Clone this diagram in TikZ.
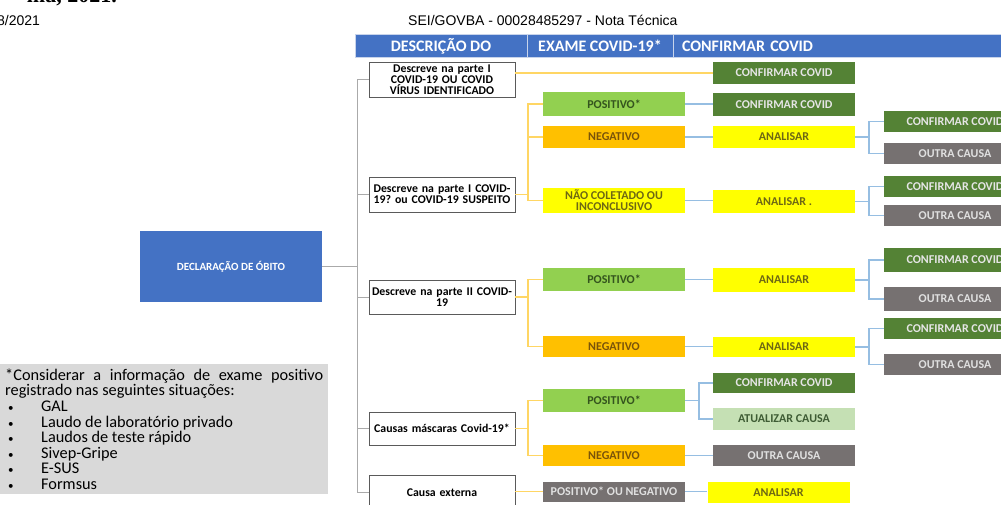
\documentclass[tikz,border=0pt]{standalone}
\usepackage{fontspec}
\setmainfont{Carlito}
\newfontfamily\seifont{Liberation Sans}
\newfontfamily\titfont{Liberation Serif}
\usepackage{xcolor}
\definecolor{hdrblue}{RGB}{68,114,196}
\definecolor{hdrline}{RGB}{200,212,235}
\definecolor{posgreen}{RGB}{146,208,80}
\definecolor{postext}{RGB}{52,84,30}
\definecolor{negorange}{RGB}{255,192,0}
\definecolor{negtext}{RGB}{122,84,10}
\definecolor{anayellow}{RGB}{255,255,0}
\definecolor{anatext}{RGB}{110,104,20}
\definecolor{confgreen}{RGB}{84,130,53}
\definecolor{outgray}{RGB}{118,113,113}
\definecolor{atugreen}{RGB}{197,224,180}
\definecolor{atutext}{RGB}{62,92,52}
\definecolor{notegray}{RGB}{217,217,217}
\definecolor{trunkgray}{RGB}{170,170,170}
\definecolor{goldline}{RGB}{255,214,100}
\definecolor{blueline}{RGB}{150,190,226}
\definecolor{boxgray}{RGB}{90,90,90}
\usetikzlibrary{positioning, calc}
\frenchspacing

\tikzset{
  hdrcell/.style={draw=hdrline, line width=1pt, fill=hdrblue, text=white,
    font=\bfseries\fontsize{16}{18}\selectfont, minimum height=23pt, inner sep=0pt},
  descbox/.style={draw=boxgray, fill=white, line width=0.8pt, minimum width=144pt,
    text width=146pt, inner xsep=0pt, inner ysep=1pt, align=center,
    font=\bfseries\fontsize{11.8}{11}\selectfont},
  exbox/.style={minimum width=142pt, minimum height=23pt, inner sep=0pt, align=center,
    font=\bfseries\fontsize{12}{11}\selectfont},
  posbox/.style={exbox, fill=posgreen, text=postext},
  negbox/.style={exbox, fill=negorange, text=negtext},
  anabox/.style={exbox, fill=anayellow, text=anatext},
  confbox/.style={exbox, fill=confgreen, text=white!90!black},
  outbox/.style={exbox, fill=outgray, text=white!88!black},
  atubox/.style={exbox, fill=atugreen, text=atutext},
  trunkln/.style={draw=trunkgray, line width=0.9pt},
  goldln/.style={draw=goldline, line width=1.1pt},
  blueln/.style={draw=blueline, line width=1.1pt},
}

\begin{document}
\begin{tikzpicture}[x=1pt, y=-1pt]
\useasboundingbox (0,0) rectangle (1001,504);
\clip (0,0) rectangle (1001,504);

% --- page head ---
\node[font=\titfont\bfseries\fontsize{22}{24}\selectfont, anchor=base east, inner sep=0pt] (titulo) at (117,2) {ma, 2021.};
\node[font=\seifont\fontsize{14}{16}\selectfont, anchor=base west, inner sep=0pt] (data) at (-3,25) {8/2021};
\node[font=\seifont\fontsize{14}{16}\selectfont, anchor=base west, inner sep=0pt] (sei) at (408,25) {SEI/GOVBA - 00028485297 - Nota Técnica};

% --- header bar ---
\node[hdrcell, minimum width=172pt] (hdr1) at (441,46) {DESCRIÇÃO DO};
\node[hdrcell, minimum width=146pt] (hdr2) at (600,46) {EXAME COVID-19*};
\node[hdrcell, minimum width=340pt, text width=322pt, align=left] (hdr3) at (843,46) {CONFIRMAR COVID};

% --- root ---
\node[fill=hdrblue, text=white, minimum width=182pt, minimum height=71pt, inner sep=0pt,
      font=\bfseries\fontsize{11}{12}\selectfont] (dec) at (231,266.5) {DECLARAÇÃO DE ÓBITO};

% --- note ---
\node[fill=notegray, anchor=north west, minimum width=328pt, minimum height=130pt,
      text width=318pt, inner xsep=5pt, inner ysep=0pt, align=justify,
      font=\fontsize{16.3}{15.6}\selectfont] (nota) at (0,364)
  {*Considerar a informação de exame positivo\linebreak registrado nas seguintes situações:\par
   \hspace*{3pt}\makebox[33pt][l]{\fontsize{11}{12}\selectfont\textbullet}GAL\par
   \hspace*{3pt}\makebox[33pt][l]{\fontsize{11}{12}\selectfont\textbullet}Laudo de laboratório privado\par
   \hspace*{3pt}\makebox[33pt][l]{\fontsize{11}{12}\selectfont\textbullet}Laudos de teste rápido\par
   \hspace*{3pt}\makebox[33pt][l]{\fontsize{11}{12}\selectfont\textbullet}Sivep-Gripe\par
   \hspace*{3pt}\makebox[33pt][l]{\fontsize{11}{12}\selectfont\textbullet}E-SUS\par
   \hspace*{3pt}\makebox[33pt][l]{\fontsize{11}{12}\selectfont\textbullet}Formsus};

% --- descricao ---
\node[descbox, minimum height=35pt] (d1) at (442,79.5) {Descreve na parte I\\COVID-19 OU COVID\\VÍRUS IDENTIFICADO};
\node[descbox, minimum height=35pt] (d2) at (442,194.5) {Descreve na parte I COVID-\\19? ou COVID-19 SUSPEITO};
\node[descbox, minimum height=34pt] (d3) at (442,297) {Descreve na parte II COVID-\\19};
\node[descbox, minimum height=33pt] (d4) at (442,428.5) {Causas máscaras Covid-19*};
\node[descbox, minimum height=35pt] (d5) at (442,492.5) {Causa externa};

% --- exame ---
\node[posbox, minimum height=24pt] (p2) at (614,104) {POSITIVO*};
\node[negbox, minimum height=22pt] (n2) at (614,137) {NEGATIVO};
\node[anabox, minimum height=25pt] (nc2) at (614,200.5) {NÃO COLETADO OU\\INCONCLUSIVO};
\node[posbox] (p3) at (614,279.5) {POSITIVO*};
\node[negbox, minimum height=21pt] (n3) at (614,346.5) {NEGATIVO};
\node[posbox] (p4) at (614,400.5) {POSITIVO*};
\node[negbox, minimum height=21pt] (n4) at (614,455.5) {NEGATIVO};
\node[outbox, minimum height=20pt] (pn5) at (614,491.5) {POSITIVO* OU NEGATIVO};

% --- confirmar ---
\node[confbox, minimum height=22pt] (c1) at (784,73) {CONFIRMAR COVID};
\node[confbox] (c2) at (784,104.5) {CONFIRMAR COVID};
\node[anabox, minimum height=22pt] (a2) at (784,137) {ANALISAR};
\node[anabox] (a3) at (784,201.5) {ANALISAR .};
\node[anabox, minimum height=24pt] (a4) at (784,280) {ANALISAR};
\node[anabox, minimum height=20pt] (a5) at (784,347) {ANALISAR};
\node[confbox, minimum height=20pt] (c6) at (784,383) {CONFIRMAR COVID};
\node[atubox, minimum height=22pt] (u6) at (784,419) {ATUALIZAR CAUSA};
\node[outbox, minimum height=21pt] (o7) at (784,455.5) {OUTRA CAUSA};
\node[anabox, minimum height=21pt] (a8) at (778.5,492.5) {ANALISAR};

% --- ultima coluna ---
\node[confbox, minimum height=21pt] (ca) at (955,121.5) {CONFIRMAR COVID};
\node[outbox, minimum height=21pt] (oa) at (955,153.5) {OUTRA CAUSA};
\node[confbox, minimum height=21pt] (cb) at (955,186.5) {CONFIRMAR COVID};
\node[outbox, minimum height=21pt] (ob) at (955,215.5) {OUTRA CAUSA};
\node[confbox, minimum height=24pt] (cc) at (955,260) {CONFIRMAR COVID};
\node[outbox, minimum height=24pt] (oc) at (955,299) {OUTRA CAUSA};
\node[confbox, minimum height=21pt] (cd) at (955,328.5) {CONFIRMAR COVID};
\node[outbox, minimum height=21pt] (od) at (955,364.5) {OUTRA CAUSA};

% --- connectors: tronco ---
\coordinate (tronco) at (357,0);
\draw[trunkln] (d1.west) -- (d1.west -| tronco) -- (d5.west -| tronco) -- (d5.west);
\foreach \n in {d2,d3,d4}
  \draw[trunkln] (\n.west) -- (\n.west -| tronco);
\draw[trunkln] (dec.east) -- (dec.east -| tronco);

% --- connectors: descricao -> exame ---
\coordinate (fexa) at (528,0);
\draw[goldln] (d1.east |- c1.west) -- (c1.west);
\draw[goldln] (d2.east) -- (d2.east -| fexa);
\draw[goldln] (p2.west) -- (p2.west -| fexa) -- (nc2.west -| fexa) -- (nc2.west);
\draw[goldln] (n2.west) -- (n2.west -| fexa);
\draw[goldln] (d3.east) -- (d3.east -| fexa);
\draw[goldln] (p3.west) -- (p3.west -| fexa) -- (n3.west -| fexa) -- (n3.west);
\draw[goldln] (d4.east) -- (d4.east -| fexa);
\draw[goldln] (p4.west) -- (p4.west -| fexa) -- (n4.west -| fexa) -- (n4.west);
\draw[goldln] (d5.east |- pn5.west) -- (pn5.west);

% --- connectors: exame -> confirmar ---
\draw[blueln] (p2.east) -- (p2.east -| c2.west);
\draw[blueln] (n2.east) -- (n2.east -| a2.west);
\draw[blueln] (nc2.east) -- (nc2.east -| a3.west);
\draw[blueln] (p3.east) -- (p3.east -| a4.west);
\draw[blueln] (n3.east) -- (n3.east -| a5.west);
\draw[blueln] (n4.east) -- (n4.east -| o7.west);
\draw[blueln] (pn5.east) -- (pn5.east -| a8.west);
\coordinate (fcon) at (699,0);
\draw[blueln] (p4.east) -- (p4.east -| fcon);
\draw[blueln] (c6.west) -- (c6.west -| fcon) -- (u6.west -| fcon) -- (u6.west);

% --- connectors: analisar -> ultima coluna ---
\coordinate (fult) at (869,0);
\foreach \a/\c/\o in {a2/ca/oa, a3/cb/ob, a4/cc/oc, a5/cd/od} {
  \draw[blueln] (\a.east) -- (\a.east -| fult);
  \draw[blueln] (\c.west) -- (\c.west -| fult) -- (\o.west -| fult) -- (\o.west);
}

\end{tikzpicture}
\end{document}
